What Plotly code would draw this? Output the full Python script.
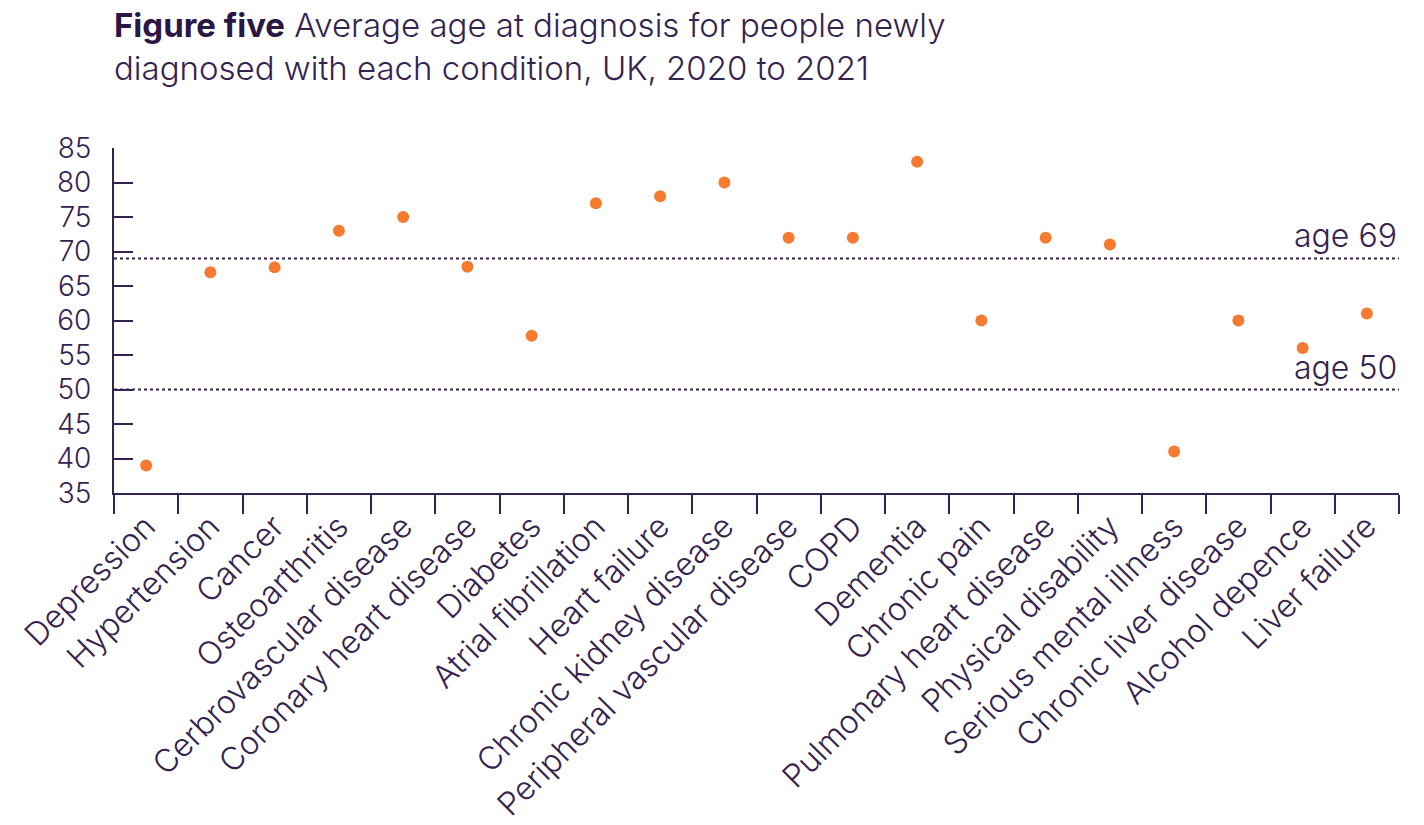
import plotly.graph_objects as go

# Average age at diagnosis by condition
conditions = [
    "Depression", "Hypertension", "Cancer", "Osteoarthritis",
    "Cerbrovascular disease", "Coronary heart disease", "Diabetes",
    "Atrial fibrillation", "Heart failure", "Chronic kidney disease",
    "Peripheral vascular disease", "COPD", "Dementia", "Chronic pain",
    "Pulmonary heart disease", "Physical disability", "Serious mental illness",
    "Chronic liver disease", "Alcohol depence", "Liver failure",
]
avg_age = [39, 67, 67.7, 73, 75, 67.8, 57.8, 77, 78, 80,
           72, 72, 83, 60, 72, 71, 41, 60, 56, 61]

# Reference ages marked with dotted lines
ref_ages = [69, 50]
ref_labels = ["age 69", "age 50"]

y_ticks = list(range(35, 86, 5))

PURPLE = "#35234f"
DARK = "#2a1745"
ORANGE = "#f47b2f"
FONT = "Inter"

fig = go.Figure()

fig.add_trace(go.Scatter(
    x=conditions, y=avg_age, mode="markers",
    marker=dict(color=ORANGE, size=12, line=dict(width=0)),
    hoverinfo="x+y", showlegend=False,
))

for age, label in zip(ref_ages, ref_labels):
    fig.add_shape(type="line", xref="paper", x0=0, x1=1, yref="y", y0=age, y1=age,
                  line=dict(color=PURPLE, width=2, dash="dot"), layer="below")
    fig.add_annotation(xref="paper", x=1, yref="y", y=age, text=label,
                       xanchor="right", yanchor="bottom", showarrow=False,
                       yshift=1, font=dict(family=FONT, size=32, color=PURPLE, weight=300))

fig.add_annotation(
    xref="paper", yref="paper", x=0, y=1, xanchor="left", yanchor="bottom",
    xshift=-2, yshift=58, align="left", showarrow=False,
    text=f"<b><span style='color:{DARK}'>Figure five</span></b> Average age at diagnosis for people newly"
         "<br>diagnosed with each condition, UK, 2020 to 2021",
    font=dict(family=FONT, size=33, color=PURPLE, weight=300),
)

fig.update_layout(
    width=1424, height=825,
    margin=dict(l=114, r=25, t=148, b=332),
    paper_bgcolor="white", plot_bgcolor="white",
    font=dict(family=FONT, color=PURPLE),
    xaxis=dict(
        type="category", range=[-0.5, len(conditions) - 0.5],
        tickangle=-45, tickson="boundaries", automargin=False,
        ticks="outside", ticklen=19, tickwidth=1.5, tickcolor=PURPLE,
        showline=True, linecolor=PURPLE, linewidth=2,
        showgrid=False, zeroline=False,
        tickfont=dict(family=FONT, size=32, color=PURPLE, weight=300),
    ),
    yaxis=dict(
        range=[35, 85], tickvals=y_ticks, automargin=False,
        ticks="inside", ticklen=19, tickwidth=1.5, tickcolor=PURPLE,
        showline=True, linecolor=PURPLE, linewidth=2,
        showgrid=False, zeroline=False, ticklabelstandoff=15,
        tickfont=dict(family=FONT, size=28, color=PURPLE, weight=300),
    ),
)

fig.write_html("out.html")
